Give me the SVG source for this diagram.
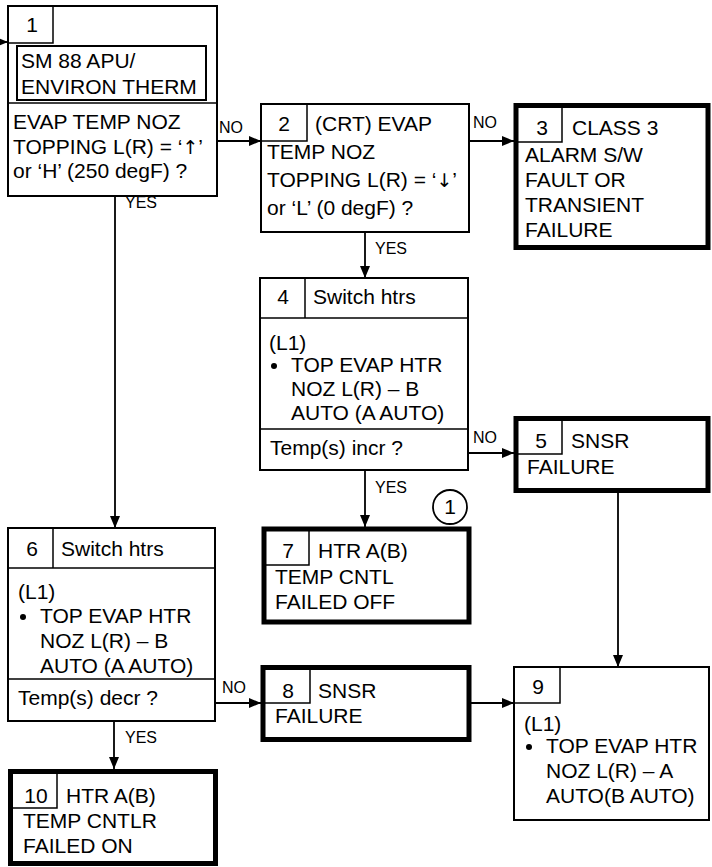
<svg xmlns="http://www.w3.org/2000/svg" width="712" height="867" viewBox="0 0 712 867">
<defs>
<style>
.t{font-family:"Liberation Sans",Arial,sans-serif;font-size:21px;fill:#000}
.c{text-anchor:middle}
.ar{font-family:"DejaVu Sans",sans-serif;font-size:19px;fill:#000}
.l{font-family:"Liberation Sans",Arial,sans-serif;font-size:16px;fill:#000}
.box{fill:#fff;stroke:#000;stroke-width:2}
.thick{fill:#fff;stroke:#000;stroke-width:5}
.div{fill:none;stroke:#000;stroke-width:1.5}
.conn{fill:none;stroke:#000;stroke-width:1.8}
</style>
<marker id="ah" viewBox="0 0 12 10" refX="12" refY="5" markerWidth="12" markerHeight="10" markerUnits="userSpaceOnUse" orient="auto">
<path d="M0,0 L12,5 L0,10 Z" fill="#000"/>
</marker>
</defs>
<rect width="712" height="867" fill="#fff"/>

<g id="connectors">
<line class="conn" x1="0" y1="42" x2="8" y2="42" marker-end="url(#ah)"/>
<line class="conn" x1="217" y1="141" x2="261" y2="141" marker-end="url(#ah)"/>
<line class="conn" x1="469" y1="141" x2="514" y2="141" marker-end="url(#ah)"/>
<line class="conn" x1="365" y1="232" x2="365" y2="278" marker-end="url(#ah)"/>
<line class="conn" x1="115" y1="196" x2="115" y2="528" marker-end="url(#ah)"/>
<line class="conn" x1="468" y1="453" x2="514" y2="453" marker-end="url(#ah)"/>
<line class="conn" x1="365" y1="470" x2="365" y2="527" marker-end="url(#ah)"/>
<line class="conn" x1="618" y1="492" x2="618" y2="667" marker-end="url(#ah)"/>
<line class="conn" x1="215" y1="703" x2="261" y2="703" marker-end="url(#ah)"/>
<line class="conn" x1="114" y1="721" x2="114" y2="769" marker-end="url(#ah)"/>
<line class="conn" x1="471" y1="703" x2="514" y2="703" marker-end="url(#ah)"/>
<text class="l" x="219" y="133">NO</text>
<text class="l" x="125" y="208">YES</text>
<text class="l" x="473" y="128">NO</text>
<text class="l" x="375" y="254">YES</text>
<text class="l" x="473" y="443">NO</text>
<text class="l" x="375" y="493">YES</text>
<text class="l" x="222" y="693">NO</text>
<text class="l" x="125" y="743">YES</text>
</g>

<g id="node1">
<rect class="box" x="8" y="6" width="209" height="190"/>
<rect class="div" x="8" y="6" width="45" height="37"/>
<rect class="box" x="17" y="46" width="189" height="54"/>
<line class="div" x1="8" y1="103" x2="217" y2="103"/>
<text class="t c" x="32" y="32">1</text>
<text class="t" x="21" y="68">SM 88 APU/</text>
<text class="t" x="21" y="94">ENVIRON THERM</text>
<text class="t" x="13" y="129">EVAP TEMP NOZ</text>
<text class="t" x="13" y="154">TOPPING L(R) = ‘<tspan class="ar">↑</tspan>’</text>
<text class="t" x="13" y="178">or ‘H’ (250 degF) ?</text>
</g>

<g id="node2">
<rect class="box" x="261" y="104" width="208" height="128"/>
<rect class="div" x="261" y="104" width="46" height="37"/>
<text class="t c" x="284" y="131">2</text>
<text class="t" x="315" y="131">(CRT) EVAP</text>
<text class="t" x="267" y="159">TEMP NOZ</text>
<text class="t" x="267" y="187">TOPPING L(R) = ‘<tspan class="ar">↓</tspan>’</text>
<text class="t" x="267" y="215">or ‘L’ (0 degF) ?</text>
</g>

<g id="node3">
<rect class="thick" x="516" y="105.5" width="192" height="142"/>
<rect class="div" x="516" y="105.5" width="46" height="36.5"/>
<text class="t c" x="542" y="135">3</text>
<text class="t" x="572" y="135">CLASS 3</text>
<text class="t" x="525" y="162">ALARM S/W</text>
<text class="t" x="525" y="187">FAULT OR</text>
<text class="t" x="525" y="212">TRANSIENT</text>
<text class="t" x="525" y="237">FAILURE</text>
</g>

<g id="node4">
<rect class="box" x="260" y="278" width="208" height="192"/>
<line class="div" x1="260" y1="318" x2="468" y2="318"/>
<line class="div" x1="305" y1="278" x2="305" y2="318"/>
<line class="div" x1="260" y1="429" x2="468" y2="429"/>
<text class="t c" x="283" y="304">4</text>
<text class="t" x="313" y="304">Switch htrs</text>
<text class="t" x="269" y="350">(L1)</text>
<circle cx="274" cy="366" r="3"/>
<text class="t" x="291" y="372">TOP EVAP HTR</text>
<text class="t" x="291" y="396">NOZ L(R) – B</text>
<text class="t" x="291" y="420">AUTO (A AUTO)</text>
<text class="t" x="270" y="455">Temp(s) incr ?</text>
</g>

<g id="node5">
<rect class="thick" x="516" y="418.5" width="192" height="72"/>
<rect class="div" x="516" y="418.5" width="46" height="35.5"/>
<text class="t c" x="541" y="448">5</text>
<text class="t" x="571" y="448">SNSR</text>
<text class="t" x="527" y="474">FAILURE</text>
</g>

<g id="node6">
<rect class="box" x="8" y="528" width="207" height="193"/>
<line class="div" x1="8" y1="568" x2="215" y2="568"/>
<line class="div" x1="53" y1="528" x2="53" y2="568"/>
<line class="div" x1="8" y1="679" x2="215" y2="679"/>
<text class="t c" x="32" y="556">6</text>
<text class="t" x="61" y="556">Switch htrs</text>
<text class="t" x="18" y="599">(L1)</text>
<circle cx="23" cy="617" r="3"/>
<text class="t" x="40" y="623">TOP EVAP HTR</text>
<text class="t" x="40" y="648">NOZ L(R) – B</text>
<text class="t" x="40" y="673">AUTO (A AUTO)</text>
<text class="t" x="18" y="705">Temp(s) decr ?</text>
</g>

<g id="node7">
<rect class="thick" x="264" y="529" width="205" height="93"/>
<rect class="div" x="264" y="529" width="45" height="36"/>
<text class="t c" x="288" y="558">7</text>
<text class="t" x="318" y="558">HTR A(B)</text>
<text class="t" x="275" y="584">TEMP CNTL</text>
<text class="t" x="275" y="609">FAILED OFF</text>
</g>

<g id="note1">
<circle cx="450" cy="507" r="17" fill="#fff" stroke="#000" stroke-width="1.8"/>
<text class="t c" x="450" y="514">1</text>
</g>

<g id="node8">
<rect class="thick" x="263" y="667.5" width="206" height="72"/>
<rect class="div" x="263" y="667.5" width="47" height="35.5"/>
<text class="t c" x="288" y="698">8</text>
<text class="t" x="318" y="698">SNSR</text>
<text class="t" x="275" y="723">FAILURE</text>
</g>

<g id="node9">
<rect class="box" x="514" y="667" width="195" height="153"/>
<rect class="div" x="514" y="667" width="46" height="36"/>
<text class="t c" x="538" y="694">9</text>
<text class="t" x="524" y="731">(L1)</text>
<circle cx="529" cy="747" r="3"/>
<text class="t" x="546" y="753">TOP EVAP HTR</text>
<text class="t" x="546" y="778">NOZ L(R) – A</text>
<text class="t" x="546" y="803">AUTO(B AUTO)</text>
</g>

<g id="node10">
<rect class="thick" x="10.5" y="771.5" width="205" height="92"/>
<rect class="div" x="10.5" y="771.5" width="46.5" height="36.5"/>
<text class="t c" x="36" y="803">10</text>
<text class="t" x="66" y="803">HTR A(B)</text>
<text class="t" x="23" y="828">TEMP CNTLR</text>
<text class="t" x="23" y="853">FAILED ON</text>
</g>
</svg>
